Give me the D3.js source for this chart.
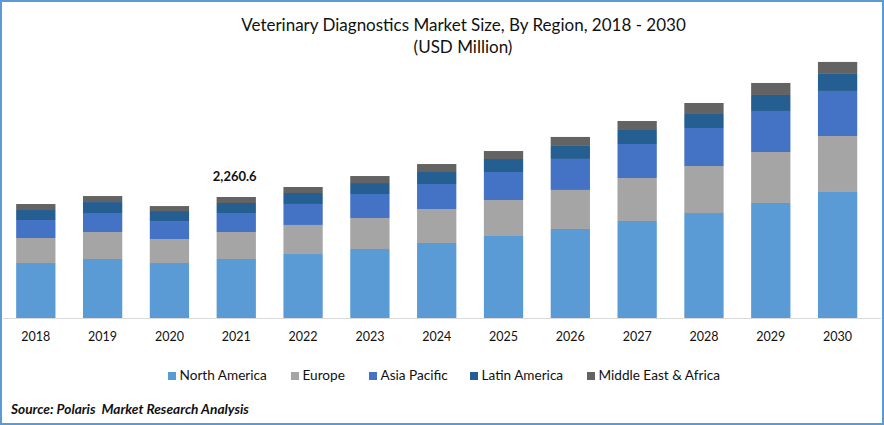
<!DOCTYPE html>
<html>
<head>
<meta charset="utf-8">
<script src="https://cdn.jsdelivr.net/npm/d3@7"></script>
<style>
  body { margin: 0; background: #fff; }
  svg { display: block; }
  text { font-family: Lato, "Open Sans", sans-serif; fill: #111; }
</style>
</head>
<body>
<svg id="chart" width="884" height="425"></svg>
<script>
// Values (USD million)
var years = ["2018", "2019", "2020", "2021", "2022", "2023", "2024", "2025", "2026", "2027", "2028", "2029", "2030"];
var regions = ["North America", "Europe", "Asia Pacific", "Latin America", "Middle East & Africa"];
var northAmerica = [1027, 1102, 1027, 1102, 1196, 1289, 1401, 1532, 1663, 1812, 1961, 2148, 2354];
var europe = [467, 504, 448, 504, 542, 579, 635, 672, 729, 803, 878, 953, 1046];
var asiaPacific = [336, 355, 336, 355, 392, 448, 467, 523, 579, 635, 710, 766, 841];
var latinAmerica = [187, 205, 187, 187, 205, 205, 224, 243, 243, 262, 262, 299, 318];
var middleEastAfrica = [112, 112, 93, 112, 112, 131, 149, 149, 168, 168, 205, 224, 224];
var colors = ["#5B9BD5", "#A5A5A5", "#4472C4", "#255E91", "#636363"];
var labelYear = "2021";
var labelText = "2,260.6";

var svg = d3.select("#chart");
var width = 884;

// Outer frame
svg.append("rect")
  .attr("x", 1).attr("y", 1)
  .attr("width", width - 2).attr("height", 423)
  .attr("fill", "#fff")
  .attr("stroke", "#5B9BD5")
  .attr("stroke-width", 2);

// Title
svg.append("text")
  .attr("x", 463.5).attr("y", 31)
  .attr("text-anchor", "middle")
  .style("font-size", "17px")
  .text("Veterinary Diagnostics Market Size, By Region, 2018 - 2030");
svg.append("text")
  .attr("x", 463).attr("y", 53)
  .attr("text-anchor", "middle")
  .style("font-size", "17px")
  .text("(USD Million)");

// Scales
var x = d3.scaleBand()
  .domain(years)
  .range([2.4, 871])
  .paddingInner(0.412)
  .paddingOuter(0.206);

var y = d3.scaleLinear()
  .domain([0, 5600])
  .range([318, 18.2]);

// Stack the series
var rows = years.map(function (year, i) {
  return {
    year: year,
    "North America": northAmerica[i],
    "Europe": europe[i],
    "Asia Pacific": asiaPacific[i],
    "Latin America": latinAmerica[i],
    "Middle East & Africa": middleEastAfrica[i]
  };
});
var series = d3.stack().keys(regions)(rows);

svg.selectAll("g.series")
  .data(series)
  .enter().append("g")
  .attr("class", "series")
  .attr("fill", function (d, i) { return colors[i]; })
  .selectAll("rect")
  .data(function (d) { return d; })
  .enter().append("rect")
  .attr("x", function (d) { return x(d.data.year); })
  .attr("width", x.bandwidth())
  .attr("y", function (d) { return y(d[1]); })
  .attr("height", function (d) { return y(d[0]) - y(d[1]); });

// X axis
var axis = svg.append("g")
  .attr("transform", "translate(0,318.5)")
  .call(d3.axisBottom(x).tickSize(0).tickPadding(14));
axis.select(".domain")
  .attr("d", "M3,0H881")
  .attr("stroke", "#D9D9D9")
  .attr("stroke-width", 1);
axis.selectAll("text")
  .style("font-size", "12.5px")
  .style("font-family", "Lato, sans-serif")
  .attr("fill", "#111");

// Value label above the 2021 bar
var labelRow = rows[years.indexOf(labelYear)];
svg.append("text")
  .attr("x", x(labelYear) + x.bandwidth() / 2 - 1.5)
  .attr("y", y(d3.sum(regions, function (r) { return labelRow[r]; })) - 16)
  .attr("text-anchor", "middle")
  .style("font-size", "13px")
  .style("font-weight", "700")
  .text(labelText);

// Legend, each swatch placed where the reference has it
var legendStarts = [168, 291, 369, 470, 587];
regions.forEach(function (region, i) {
  svg.append("rect")
    .attr("x", legendStarts[i]).attr("y", 372)
    .attr("width", 8).attr("height", 8)
    .attr("fill", colors[i]);
  svg.append("text")
    .attr("x", legendStarts[i] + 11.5).attr("y", 380)
    .style("font-size", "13.6px")
    .text(region);
});

// Source line
svg.append("text")
  .attr("x", 11).attr("y", 414)
  .attr("xml:space", "preserve")
  .style("font-size", "13.7px")
  .style("font-weight", "700")
  .style("font-style", "italic")
  .text("Source: Polaris  Market Research Analysis");
</script>
</body>
</html>
